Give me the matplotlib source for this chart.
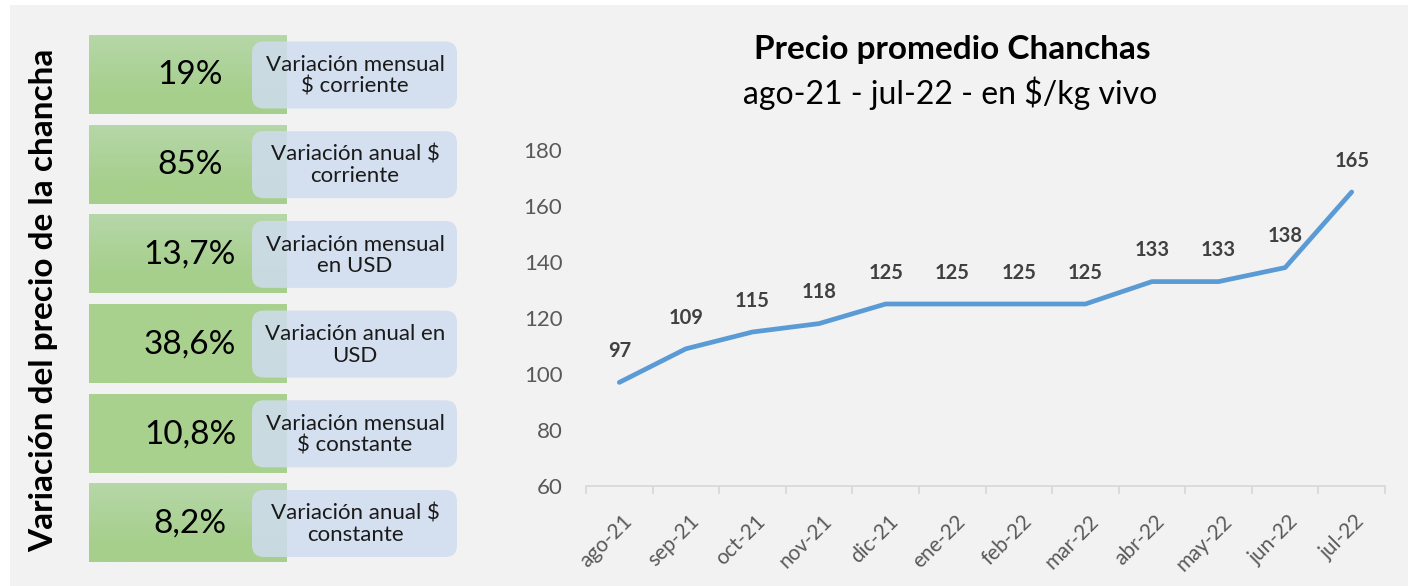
import matplotlib
matplotlib.use("Agg")
import matplotlib.pyplot as plt
import matplotlib.transforms as mtransforms
import numpy as np
from matplotlib.patches import FancyBboxPatch, Rectangle
from matplotlib.colors import to_rgb

plt.rcParams['font.family'] = ['Lato', 'DejaVu Sans']

# ---- data ----
months = ["ago-21", "sep-21", "oct-21", "nov-21", "dic-21", "ene-22",
          "feb-22", "mar-22", "abr-22", "may-22", "jun-22", "jul-22"]
prices = [97, 109, 115, 118, 125, 125, 125, 125, 133, 133, 138, 165]

pct_values = ["19%", "85%", "13,7%", "38,6%", "10,8%", "8,2%"]
pct_labels = ["Variación mensual\n$ corriente",
              "Variación anual $\ncorriente",
              "Variación mensual\nen USD",
              "Variación anual en\nUSD",
              "Variación mensual\n$ constante",
              "Variación anual $\nconstante"]
side_title = "Variación del precio de la chancha"
chart_title = "Precio promedio Chanchas"
chart_subtitle = "ago-21 - jul-22 - en $/kg vivo"
y_ticks = [60, 80, 100, 120, 140, 160, 180]

W, H = 1408, 586
fig = plt.figure(figsize=(W / 100, H / 100), dpi=100)
fig.patch.set_facecolor("white")

# background overlay axes in pixel coordinates
bg = fig.add_axes([0, 0, 1, 1])
bg.set_xlim(0, W)
bg.set_ylim(H, 0)
bg.axis("off")
bg.set_zorder(0)

bg.add_patch(Rectangle((10, 5), W - 10, H - 5, facecolor="#f2f2f2", edgecolor="none", zorder=0))

# side title
bg.text(44, 300, side_title, rotation=90, ha="center", va="center",
        fontsize=24, fontweight="bold", color="black", zorder=5)

box_top0 = 35
box_step = 89.7
box_h = 79
gradient = [True, True, True, False, False, True]
top_col = np.array(to_rgb("#b6d7a8"))
bot_col = np.array(to_rgb("#a6cf8c"))
solid_col = np.array(to_rgb("#a9d18e"))

for i, (val, lab) in enumerate(zip(pct_values, pct_labels)):
    y0 = box_top0 + i * box_step
    y1 = y0 + box_h
    t = np.linspace(0, 1, 64)[:, None]
    if gradient[i]:
        t2 = np.clip(t / 0.75, 0, 1)
        img = top_col[None, :] * (1 - t2) + bot_col[None, :] * t2
    else:
        img = np.tile(solid_col, (64, 1))
    img = img[:, None, :]
    bg.imshow(img, extent=(89, 287, y1, y0), aspect="auto", zorder=1, interpolation="bilinear")
    bg.text(190, (y0 + y1) / 2 + 1, val, ha="center", va="center",
            fontsize=24, color="black", zorder=3)
    # blue rounded box
    by0 = y0 + 6.5
    bh = 67
    bg.add_patch(FancyBboxPatch((252, by0), 205, bh,
                                boxstyle="round,pad=0,rounding_size=12",
                                facecolor="#cfdcef", edgecolor="none", alpha=0.85, zorder=2))
    bg.text(355, by0 + bh / 2 + 1, lab, ha="center", va="center",
            fontsize=16, color="#1a1a1a", linespacing=1.1, zorder=3)

# titles
bg.text(952, 50, chart_title, ha="center", va="center", fontsize=24,
        fontweight="bold", color="black", zorder=5)
bg.text(950, 93, chart_subtitle, ha="center", va="center", fontsize=23,
        color="black", zorder=5)

# ---- chart ----
ax = fig.add_axes([586 / W, 1 - 486 / H, (1385 - 586) / W, (486 - 150) / H])
ax.set_zorder(2)
ax.patch.set_alpha(0)
x = np.arange(len(months))
ax.plot(x, prices, color="#5b9bd5", lw=3.4, solid_capstyle="round", solid_joinstyle="round", zorder=3)
for xi, p in zip(x, prices):
    ax.annotate(str(p), (xi, p), xytext=(0, 22.5), textcoords="offset points",
                ha="center", va="center", fontsize=14.5, fontweight="bold", color="#404040")

ax.set_xlim(-0.5, len(months) - 0.5)
ax.set_ylim(60, 180)
ax.set_yticks(y_ticks)
ax.set_yticklabels([str(v) for v in y_ticks])
ax.set_xticks(x)
ax.set_xticklabels(months, rotation=45, ha="right", rotation_mode="anchor")
ax.set_xticks(np.arange(-0.5, len(months)), minor=True)
ax.tick_params(axis="x", which="major", length=0, pad=18, labelsize=15, labelcolor="#595959")
ax.tick_params(axis="x", which="minor", length=6, width=1.3, color="#d9d9d9")
ax.tick_params(axis="y", length=0, pad=17, labelsize=16, labelcolor="#595959")
shift = mtransforms.ScaledTranslation(3 / 100, 0, fig.dpi_scale_trans)
for lbl in ax.get_xticklabels():
    lbl.set_transform(lbl.get_transform() + shift)
for s in ["top", "right", "left"]:
    ax.spines[s].set_visible(False)
ax.spines["bottom"].set_color("#d9d9d9")
ax.spines["bottom"].set_linewidth(1.3)

fig.savefig("out.png", dpi=100)
